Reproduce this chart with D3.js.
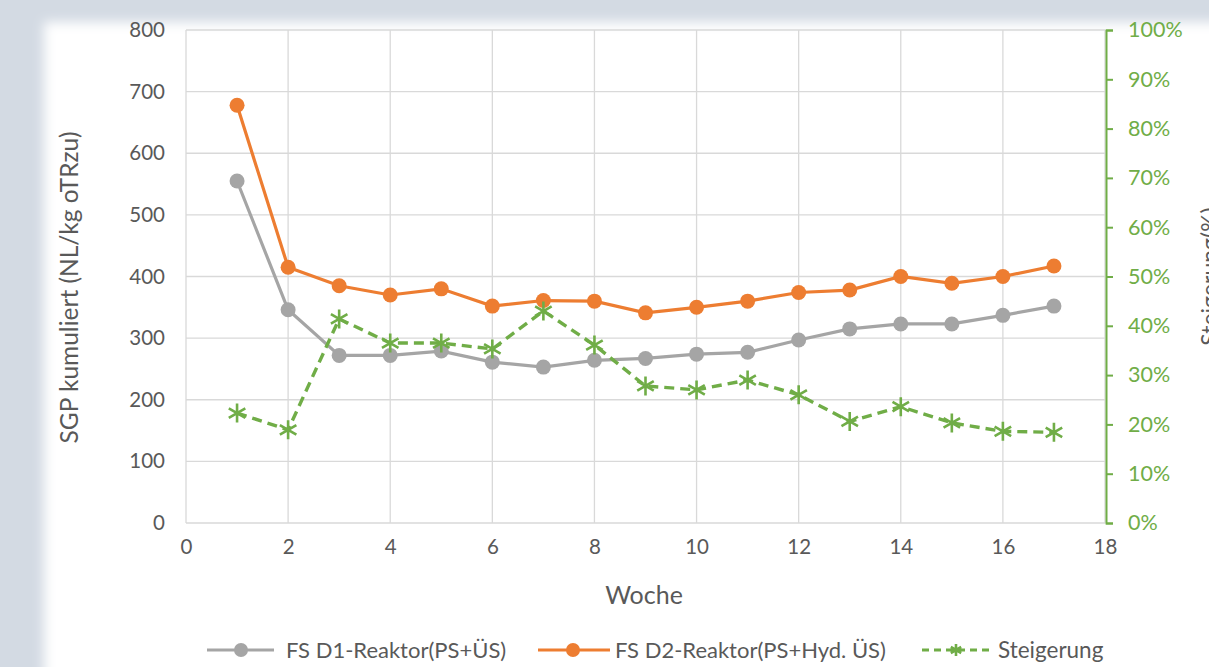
<!DOCTYPE html>
<html><head><meta charset="utf-8">
<script src="https://cdn.jsdelivr.net/npm/d3@7"></script>
<style>
html,body{margin:0;padding:0;background:#d3dae3;overflow:hidden;}
svg{display:block;}
</style></head>
<body>
<svg id="chart" width="1209" height="667"></svg>
<script>
const weeks = [1,2,3,4,5,6,7,8,9,10,11,12,13,14,15,16,17];
const d1Values = [555,346,272,272,279,261,253,264,267,274,277,297,315,323,323,337,352];
const d2Values = [678,415,385,370,380,352,361,360,341,350,360,374,378,400,389,400,417];
const steigerung = [0.223,0.189,0.414,0.365,0.365,0.353,0.430,0.361,0.278,0.270,0.290,0.260,0.206,0.236,0.203,0.186,0.184];
const xTicks = [0,2,4,6,8,10,12,14,16,18];
const yTicks = [0,100,200,300,400,500,600,700,800];
const y2Ticks = [0,0.1,0.2,0.3,0.4,0.5,0.6,0.7,0.8,0.9,1.0];
const seriesNames = ["FS D1-Reaktor(PS+ÜS)","FS D2-Reaktor(PS+Hyd. ÜS)","Steigerung"];

const FONT = "Lato, 'Open Sans', sans-serif";
const svg = d3.select("#chart");
const defs = svg.append("defs");
const blur = defs.append("filter").attr("id","blur").attr("x","-10%").attr("y","-10%").attr("width","120%").attr("height","120%");
blur.append("feGaussianBlur").attr("stdDeviation",6);

// background frame
svg.append("rect").attr("width",1209).attr("height",667).attr("fill","#d3dae3");
svg.append("rect").attr("x",44).attr("y",22).attr("width",1300).attr("height",800).attr("fill","#ffffff").attr("filter","url(#blur)");

const x = d3.scaleLinear().domain([0,18]).range([186,1105]);
const y = d3.scaleLinear().domain([0,800]).range([523,30]);
const y2 = d3.scaleLinear().domain([0,1]).range([523,30]);

// grid
const g = svg.append("g");
g.selectAll("line.hg").data(yTicks).join("line")
  .attr("x1",x(0)).attr("x2",x(18)).attr("y1",d=>y(d)).attr("y2",d=>y(d))
  .attr("stroke","#d9d9d9").attr("stroke-width",1.3);
g.selectAll("line.vg").data(xTicks).join("line")
  .attr("y1",y(0)).attr("y2",y(800)).attr("x1",d=>x(d)).attr("x2",d=>x(d))
  .attr("stroke","#d9d9d9").attr("stroke-width",1.3);

// left axis labels
const yAxis = d3.axisLeft(y).tickValues(yTicks).tickSize(0).tickPadding(21);
const ya = svg.append("g").attr("transform",`translate(${x(0)},0)`).call(yAxis);
ya.select(".domain").remove();
ya.selectAll("text").attr("font-family",FONT).attr("font-size",20.5).attr("fill","#595959");

// bottom axis labels
const xAxis = d3.axisBottom(x).tickValues(xTicks).tickSize(0).tickPadding(16);
const xa = svg.append("g").attr("transform",`translate(0,${y(0)})`).call(xAxis);
xa.select(".domain").remove();
xa.selectAll("text").attr("font-family",FONT).attr("font-size",20.5).attr("fill","#595959");

// right axis
const y2Axis = d3.axisRight(y2).tickValues(y2Ticks).tickSize(7).tickPadding(15).tickFormat(d3.format(".0%"));
const ya2 = svg.append("g").attr("transform",`translate(${x(18)+1},0)`).call(y2Axis);
ya2.select(".domain").attr("stroke","#70ad47").attr("stroke-width",2);
ya2.selectAll(".tick line").attr("stroke","#70ad47").attr("stroke-width",2);
ya2.selectAll("text").attr("font-family",FONT).attr("font-size",21.5).attr("fill","#70ad47");

// axis titles
svg.append("text").attr("transform",`translate(78,${(y(0)+y(800))/2 + 11}) rotate(-90)`)
  .attr("text-anchor","middle").attr("font-family",FONT).attr("font-size",24.5).attr("fill","#595959")
  .text("SGP kumuliert (NL/kg oTRzu)");
svg.append("text").attr("x",644).attr("y",604).attr("text-anchor","middle")
  .attr("font-family",FONT).attr("font-size",25).attr("fill","#595959").text("Woche");
svg.append("text").attr("transform",`translate(1218,${(y(0)+y(800))/2}) rotate(-90)`)
  .attr("text-anchor","middle").attr("font-family",FONT).attr("font-size",23).attr("fill","#595959")
  .text("Steigerung(%)");

// series
const line1 = d3.line().x((d,i)=>x(weeks[i])).y(d=>y(d));
const line2 = d3.line().x((d,i)=>x(weeks[i])).y(d=>y2(d));

function drawStar(sel, cx, cy, r){
  const a = r*0.87, b = r*0.5;
  const p = `M${cx},${cy-r}L${cx},${cy+r}M${cx-a},${cy-b}L${cx+a},${cy+b}M${cx-a},${cy+b}L${cx+a},${cy-b}`;
  sel.append("path").attr("d",p).attr("stroke","#70ad47").attr("stroke-width",2.6).attr("fill","none");
}

svg.append("path").datum(d1Values).attr("d",line1).attr("fill","none").attr("stroke","#a5a5a5").attr("stroke-width",3.2);
svg.append("g").selectAll("circle").data(d1Values).join("circle")
  .attr("cx",(d,i)=>x(weeks[i])).attr("cy",d=>y(d)).attr("r",7.5).attr("fill","#a5a5a5");

svg.append("path").datum(d2Values).attr("d",line1).attr("fill","none").attr("stroke","#ed7d31").attr("stroke-width",3.2);
svg.append("g").selectAll("circle").data(d2Values).join("circle")
  .attr("cx",(d,i)=>x(weeks[i])).attr("cy",d=>y(d)).attr("r",7.5).attr("fill","#ed7d31");

svg.append("path").datum(steigerung).attr("d",line2).attr("fill","none").attr("stroke","#70ad47")
  .attr("stroke-width",3.4).attr("stroke-dasharray","10,6");
const sg = svg.append("g");
steigerung.forEach((d,i)=>drawStar(sg, x(weeks[i]), y2(d), 9.5));

// legend
const ly = 650;
const leg = svg.append("g");
leg.append("line").attr("x1",207).attr("x2",274).attr("y1",ly).attr("y2",ly).attr("stroke","#a5a5a5").attr("stroke-width",3.2);
leg.append("circle").attr("cx",241).attr("cy",ly).attr("r",7).attr("fill","#a5a5a5");
leg.append("text").attr("x",286).attr("y",ly+8).attr("font-family",FONT).attr("font-size",22).attr("fill","#595959").text(seriesNames[0]);
leg.append("line").attr("x1",538).attr("x2",610).attr("y1",ly).attr("y2",ly).attr("stroke","#ed7d31").attr("stroke-width",3.2);
leg.append("circle").attr("cx",573).attr("cy",ly).attr("r",7).attr("fill","#ed7d31");
leg.append("text").attr("x",615).attr("y",ly+8).attr("font-family",FONT).attr("font-size",22).attr("fill","#595959").text(seriesNames[1]);
leg.append("line").attr("x1",922).attr("x2",993).attr("y1",ly).attr("y2",ly).attr("stroke","#70ad47").attr("stroke-width",3.2).attr("stroke-dasharray","7,5");
drawStar(leg, 956, ly, 6);
leg.append("text").attr("x",998).attr("y",ly+8).attr("font-family",FONT).attr("font-size",22.5).attr("fill","#595959").text(seriesNames[2]);
</script>
</body></html>
